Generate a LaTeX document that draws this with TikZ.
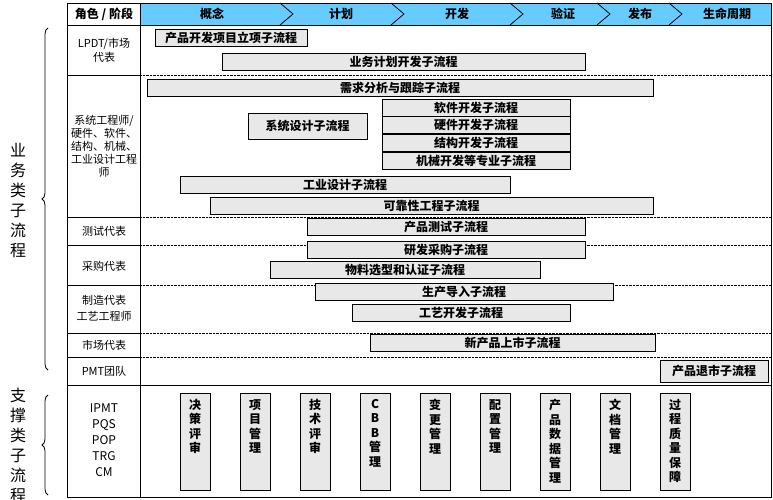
\documentclass[tikz,border=0pt]{standalone}
\usepackage{fontspec}
\setmainfont{Noto Sans CJK SC}
\usetikzlibrary{decorations.pathreplacing}
\definecolor{hdrblue}{RGB}{102,204,255}
\definecolor{bargray}{RGB}{232,232,232}
\tikzset{
  flow/.style = {draw, thick, fill=bargray, inner sep=0pt, font=\fontsize{12}{13}\selectfont\bfseries},
  vflow/.style = {draw, thick, fill=bargray, inner sep=0pt, anchor=north, minimum width=30pt, minimum height=97pt},
  role/.style = {font=\fontsize{11}{14}\selectfont, align=center, inner sep=1pt},
}
% bar: name, x1, x2, y, text
\newcommand{\flowbar}[5]{\node[flow, minimum width=#3pt-#2pt, minimum height=17pt] (#1) at ({(#2+#3)/2},#4) {#5};}
\begin{document}
\begin{tikzpicture}[x=1pt, y=-1pt]
  \useasboundingbox (0,0) rectangle (773,500);
  % header
  \fill[hdrblue] (140,3) rectangle (771,25);
  \foreach \a/\b in {280/293, 391/404, 510/523, 597/610, 669/682}
    \draw[thick] (\a,3) -- (\b,14) -- (\a,25);
  \node[font=\fontsize{12}{13}\selectfont\bfseries] (h0) at (104,14) {角色 / 阶段};
  \foreach \t/\x [count=\i] in {概念/212, 计划/341, 开发/457, 验证/563, 发布/640, 生命周期/727}
    \node[font=\fontsize{12}{13}\selectfont\bfseries] (p\i) at (\x,14) {\t};
  % grid
  \draw[thick] (67,3) rectangle (771,497);
  \draw[thick] (140,3) -- (140,497);
  \draw[thick] (67,25) -- (771,25);
  \draw[thick] (67,385) -- (771,385);
  \foreach \y in {75,217,245,285,333,357}
  {
    \draw[thick] (67,\y) -- (140,\y);
    \draw[densely dotted] (140,\y) -- (771,\y);
  }
  % roles
  \node[role] (r1) at (104,50) {LPDT/市场\\代表};
  \node[role, font=\fontsize{11}{13}\selectfont] (r2) at (104,146) {系统工程师/\\硬件、软件、\\结构、机械、\\工业设计工程\\师};
  \node[role] (r3) at (104,231) {测试代表};
  \node[role] (r4) at (104,266) {采购代表};
  \node[role, font=\fontsize{11}{16}\selectfont] (r5) at (104,308) {制造代表\\工艺工程师};
  \node[role] (r6) at (104,345) {市场代表};
  \node[role] (r7) at (104,371) {PMT团队};
  \node[role, font=\fontsize{12}{16}\selectfont] (r8) at (104,440) {IPMT\\PQS\\POP\\TRG\\CM};
  % business flows
  \flowbar{b1}{155}{307}{38}{产品开发项目立项子流程}
  \flowbar{b2}{222}{585}{62}{业务计划开发子流程}
  \flowbar{b3}{147}{653}{88}{需求分析与跟踪子流程}
  \node[flow, minimum width=119pt, minimum height=26pt] (b4) at (307.5,126) {系统设计子流程};
  \flowbar{b5}{382}{570}{108}{软件开发子流程}
  \flowbar{b6}{382}{570}{125}{硬件开发子流程}
  \flowbar{b7}{382}{570}{143}{结构开发子流程}
  \flowbar{b8}{382}{570}{161}{机械开发等专业子流程}
  \flowbar{b9}{180}{510}{185}{工业设计子流程}
  \flowbar{b10}{210}{653}{206}{可靠性工程子流程}
  \flowbar{b11}{307}{585}{227}{产品测试子流程}
  \flowbar{b12}{307}{585}{250}{研发采购子流程}
  \flowbar{b13}{270}{540}{270}{物料选型和认证子流程}
  \flowbar{b14}{315}{613}{292}{生产导入子流程}
  \flowbar{b15}{352}{570}{313}{工艺开发子流程}
  \flowbar{b16}{370}{655}{343}{新产品上市子流程}
  \node[flow, minimum width=108pt, minimum height=22pt] (b17) at (714,371) {产品退市子流程};
  % support flows
  \foreach \t [count=\i] in {决\\策\\评\\审, 项\\目\\管\\理, 技\\术\\评\\审, C\\B\\B\\管\\理, 变\\更\\管\\理, 配\\置\\管\\理, 产\\品\\数\\据\\管\\理, 文\\档\\管\\理, 过\\程\\质\\量\\保\\障}
    \node[vflow, label={[anchor=north, yshift=-6pt, align=center, font=\fontsize{12}{14.5}\selectfont\bfseries, inner sep=0pt]north:\t}] (s\i) at (135+60*\i,393) {};
  % braces
  \draw[thick, decorate, decoration={brace, amplitude=6pt}] (48,370) -- (48,28);
  \draw[thick, decorate, decoration={brace, amplitude=6pt}] (48,495) -- (48,395);
  \node[font=\fontsize{16}{20}\selectfont, align=center, inner sep=0pt] (g1) at (18,200) {业\\务\\类\\子\\流\\程};
  \node[font=\fontsize{16}{20}\selectfont, align=center, inner sep=0pt] (g2) at (18,445) {支\\撑\\类\\子\\流\\程};
\end{tikzpicture}
\end{document}
